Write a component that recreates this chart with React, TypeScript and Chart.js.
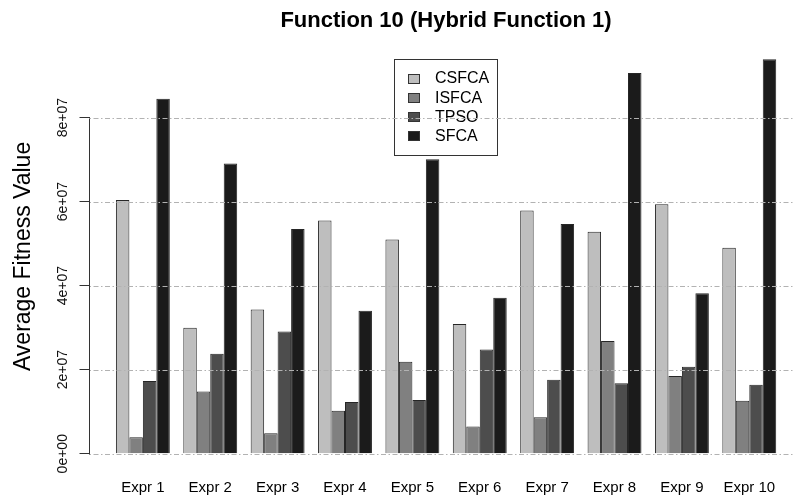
import React, { useEffect, useRef } from "react";
import { Chart, registerables } from "chart.js";

Chart.register(...registerables);

const categories = ["Expr 1", "Expr 2", "Expr 3", "Expr 4", "Expr 5", "Expr 6", "Expr 7", "Expr 8", "Expr 9", "Expr 10"];
const seriesNames = ["CSFCA", "ISFCA", "TPSO", "SFCA"];
const csfca = [60.4e6, 30.0e6, 34.3e6, 55.5e6, 51.0e6, 30.9e6, 57.9e6, 52.8e6, 59.4e6, 49.0e6];
const isfca = [3.9e6, 14.8e6, 4.9e6, 10.2e6, 21.9e6, 6.5e6, 8.7e6, 26.8e6, 18.5e6, 12.6e6];
const tpso = [17.3e6, 23.8e6, 29.1e6, 12.3e6, 12.8e6, 24.8e6, 17.6e6, 16.8e6, 20.7e6, 16.4e6];
const sfca = [84.5e6, 69.1e6, 53.5e6, 34.0e6, 70.1e6, 37.1e6, 54.7e6, 90.6e6, 38.2e6, 93.9e6];
const yTickValues = [0, 2e7, 4e7, 6e7, 8e7];
const yTickLabels = ["0e+00", "2e+07", "4e+07", "6e+07", "8e+07"];
const titleText = "Function 10 (Hybrid Function 1)";
const yTitle = "Average Fitness Value";

const seriesValues = [csfca, isfca, tpso, sfca];
const seriesColors = ["#bebebe", "#808080", "#4d4d4d", "#1b1b1b"];
const FONT = "'Liberation Sans', Arial, Helvetica, sans-serif";

const overlayPlugin = {
  id: "rOverlay",
  afterDatasetsDraw(chart: any) {
    const ctx = chart.ctx;
    // legend box
    const bx = 394.5, by = 59.5, bw = 103, bh = 96;
    ctx.save();
    ctx.fillStyle = "#ffffff";
    ctx.fillRect(bx, by, bw, bh);
    ctx.strokeStyle = "#333333";
    ctx.lineWidth = 1;
    ctx.strokeRect(bx, by, bw, bh);
    chart.data.datasets.forEach((ds: any, i: number) => {
      const yc = 79 + i * 19.1;
      ctx.fillStyle = ds.backgroundColor;
      ctx.fillRect(408.5, Math.round(yc - 5) + 0.5, 11, 9);
      ctx.strokeStyle = "#333333";
      ctx.strokeRect(408.5, Math.round(yc - 5) + 0.5, 11, 9);
      ctx.fillStyle = "#000000";
      ctx.font = "16px " + FONT;
      ctx.textBaseline = "middle";
      ctx.textAlign = "left";
      ctx.fillText(ds.label, 435, yc);
    });
    ctx.restore();
  },
  afterDraw(chart: any) {
    const ctx = chart.ctx;
    const ys = chart.scales.y;
    const { left, right } = chart.chartArea;
    ctx.save();
    ctx.lineWidth = 1;
    ctx.strokeStyle = "#b2b2b2";
    ctx.setLineDash([1.5, 2.5, 5, 2.5]);
    yTickValues.forEach((v) => {
      const py = Math.round(ys.getPixelForValue(v)) + 0.5;
      ctx.beginPath();
      ctx.moveTo(left, py);
      ctx.lineTo(right, py);
      ctx.stroke();
    });
    ctx.setLineDash([]);
    ctx.strokeStyle = "#333333";
    const ax = Math.round(left) - 0.5;
    ctx.beginPath();
    ctx.moveTo(ax, Math.round(ys.getPixelForValue(yTickValues[0])) + 0.5);
    ctx.lineTo(ax, Math.round(ys.getPixelForValue(yTickValues[yTickValues.length - 1])) + 0.5);
    ctx.stroke();
    ctx.restore();
  },
};

export default function App() {
  const ref = useRef<HTMLCanvasElement | null>(null);
  useEffect(() => {
    if (!ref.current) return;
    const maxVal = Math.max(...seriesValues.flat());
    const yMin = -0.04 * maxVal;
    const yMax = 1.04 * maxVal;
    const chart = new Chart(ref.current, {
      type: "bar",
      data: {
        datasets: seriesNames.map((name, si) => ({
          label: name,
          data: seriesValues[si].map((v, i) => ({ x: i + 1, y: v })),
          backgroundColor: seriesColors[si],
          borderColor: "#262626",
          borderWidth: 1,
          categoryPercentage: 0.8,
          barPercentage: 1,
        })),
      },
      options: {
        animation: false,
        responsive: false,
        devicePixelRatio: 1,
        layout: { padding: 0 },
        font: { family: FONT },
        plugins: {
          legend: { display: false },
          tooltip: { enabled: false },
          title: {
            display: true,
            text: titleText,
            color: "#000000",
            font: { family: FONT, size: 22, weight: "bold" },
            padding: { top: 8, bottom: 9 },
          },
        },
        scales: {
          x: {
            type: "linear",
            offset: false,
            min: 0.208,
            max: 12.118,
            grid: { display: false, drawTicks: false },
            border: { display: false },
            afterBuildTicks: (scale: any) => {
              scale.ticks = categories.map((_, i) => ({ value: i + 1 }));
            },
            afterFit: (scale: any) => {
              scale.height = 28.5;
            },
            ticks: {
              autoSkip: false,
              maxRotation: 0,
              minRotation: 0,
              padding: 9.5,
              color: "#000000",
              font: { family: FONT, size: 15 },
              callback: (value: any) => categories[Math.round(value) - 1] ?? "",
            },
          },
          y: {
            type: "linear",
            min: yMin,
            max: yMax,
            afterBuildTicks: (scale: any) => {
              scale.ticks = yTickValues.map((v) => ({ value: v }));
            },
            afterFit: (scale: any) => {
              scale.width = 89.5;
            },
            grid: {
              display: true,
              drawOnChartArea: false,
              drawTicks: true,
              tickLength: 10,
              tickColor: "#333333",
              lineWidth: 1,
            },
            border: { display: false },
            ticks: {
              minRotation: 90,
              maxRotation: 90,
              crossAlign: "center",
              padding: -3,
              color: "#111111",
              font: { family: FONT, size: 14 },
              callback: (value: any) => {
                const idx = yTickValues.indexOf(value);
                return idx >= 0 ? yTickLabels[idx] : "";
              },
            },
            title: {
              display: true,
              text: yTitle,
              color: "#000000",
              font: { family: FONT, size: 23 },
              padding: { top: 9.7, bottom: 0 },
            },
          },
        },
      },
      plugins: [overlayPlugin],
    } as any);
    return () => chart.destroy();
  }, []);
  return (
    <div style={{ position: "absolute", left: 0, top: 0, width: 794, height: 498, background: "#ffffff", overflow: "hidden" }}>
      <canvas ref={ref} width={892} height={498} style={{ display: "block" }} />
    </div>
  );
}
